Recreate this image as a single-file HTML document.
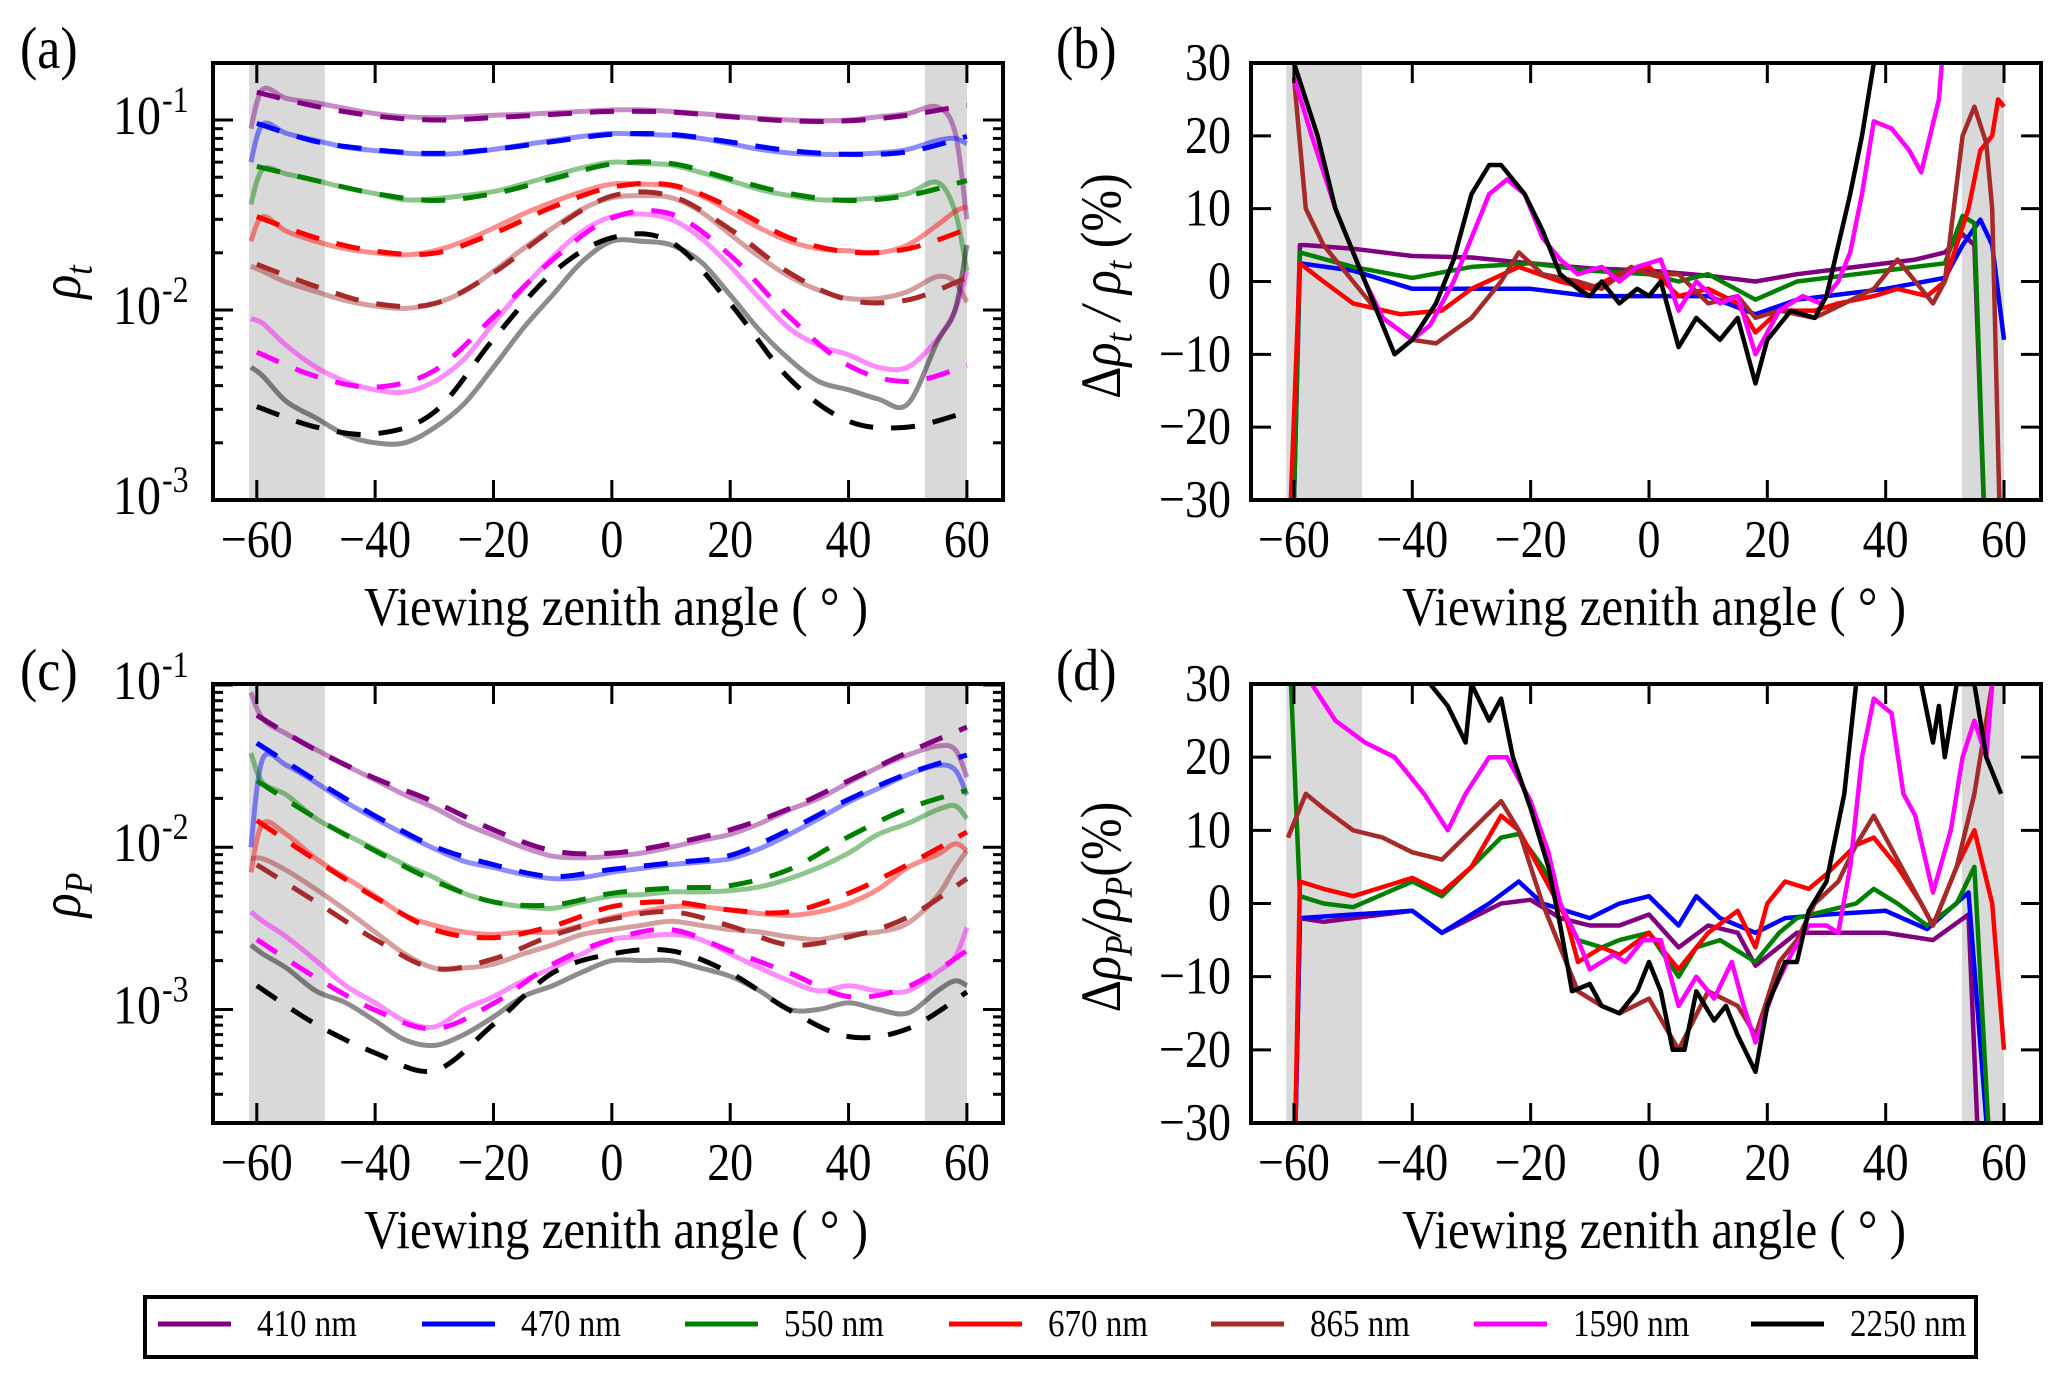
<!DOCTYPE html>
<html><head><meta charset="utf-8"><style>
html,body{margin:0;padding:0;background:#fff;}
svg{display:block;font-family:"Liberation Serif","DejaVu Serif",serif;}
</style></head><body>
<svg id="fig" xmlns="http://www.w3.org/2000/svg" width="2067" height="1383" viewBox="0 0 2067 1383">
<rect x="0" y="0" width="2067" height="1383" fill="#fff"/>
</svg>
<script>
// ---------- data ----------
const WAVES = ['410 nm','470 nm','550 nm','670 nm','865 nm','1590 nm','2250 nm'];
const COLORS = ['#800080','#0000ff','#008000','#ff0000','#a52a2a','#ff00ff','#000000'];
const XM = [-60,-50,-40,-30,-20,-10,0,10,20,30,40,50,60];
const XO = [-61,-59,-55,-50,-45,-40,-35,-30,-25,-20,-15,-10,-5,0,5,10,15,20,25,30,35,40,45,50,55,58,60];
// panel (a) model (dashed)
const A_M410 = [0.14,0.118,0.105,0.1,0.103,0.107,0.111,0.11,0.104,0.099,0.099,0.106,0.12];
const A_M470 = [0.096,0.077,0.0697,0.0667,0.070,0.077,0.084,0.084,0.0766,0.069,0.066,0.068,0.082];
const A_M550 = [0.057,0.048,0.041,0.0377,0.041,0.049,0.0587,0.059,0.049,0.041,0.0377,0.040,0.048];
const A_M670 = [0.031,0.024,0.0204,0.0199,0.0253,0.0348,0.0443,0.0455,0.0348,0.024,0.0202,0.021,0.0266];
const A_M865 = [0.0174,0.0133,0.0108,0.0108,0.0157,0.0266,0.0398,0.0398,0.0266,0.0157,0.0113,0.0113,0.0148];
const A_M1590 = [0.006,0.00447,0.00393,0.0048,0.0092,0.0184,0.0305,0.032,0.0194,0.0092,0.0051,0.0042,0.0051];
const A_M2250 = [0.0031,0.00242,0.00223,0.0029,0.00703,0.0157,0.024,0.0228,0.0108,0.00435,0.0026,0.00242,0.0029];
// panel (a) observed (solid, translucent)
const A_O410 = [0.09,0.145,0.13,0.123,0.115,0.108,0.104,0.103,0.104,0.106,0.107,0.109,0.111,0.113,0.113,0.111,0.108,0.105,0.102,0.1,0.099,0.1,0.104,0.108,0.117,0.086,0.03];
const A_O470 = [0.06,0.095,0.085,0.078,0.072,0.069,0.067,0.066,0.067,0.070,0.074,0.078,0.082,0.085,0.084,0.083,0.080,0.075,0.070,0.067,0.066,0.066,0.067,0.070,0.078,0.080,0.075];
const A_O550 = [0.036,0.055,0.052,0.048,0.044,0.041,0.038,0.0385,0.040,0.042,0.046,0.051,0.056,0.060,0.059,0.058,0.053,0.048,0.043,0.040,0.038,0.038,0.039,0.041,0.047,0.033,0.016];
const A_O670 = [0.023,0.031,0.026,0.023,0.021,0.020,0.0195,0.0205,0.023,0.027,0.032,0.037,0.042,0.046,0.046,0.045,0.040,0.033,0.027,0.023,0.021,0.0205,0.020,0.022,0.028,0.033,0.035];
const A_O865 = [0.017,0.016,0.014,0.0125,0.0112,0.0105,0.0102,0.0108,0.0125,0.016,0.021,0.027,0.034,0.039,0.040,0.039,0.033,0.025,0.019,0.015,0.0127,0.0115,0.0115,0.0125,0.015,0.014,0.011];
const A_O1590 = [0.009,0.0085,0.0065,0.0050,0.0042,0.0038,0.0037,0.0042,0.0055,0.0085,0.013,0.019,0.026,0.031,0.032,0.030,0.024,0.017,0.0115,0.0080,0.0065,0.0058,0.0050,0.0050,0.0070,0.010,0.016];
const A_O2250 = [0.005,0.0045,0.0033,0.0027,0.0022,0.0020,0.0020,0.0024,0.0032,0.0050,0.0080,0.012,0.018,0.023,0.023,0.022,0.018,0.012,0.0078,0.0055,0.0042,0.0038,0.0034,0.0032,0.0068,0.010,0.022];
// panel (c) model (dashed)
const C_M410 = [0.065,0.0397,0.0266,0.019,0.0128,0.0095,0.0092,0.0105,0.0128,0.0173,0.0257,0.0384,0.055];
const C_M470 = [0.0438,0.0257,0.0156,0.0101,0.0078,0.0066,0.0073,0.0080,0.0089,0.0128,0.0197,0.0284,0.037];
const C_M550 = [0.0257,0.0151,0.0095,0.0062,0.0046,0.00441,0.0052,0.0056,0.0058,0.0073,0.0116,0.0173,0.0225];
const C_M670 = [0.0146,0.0083,0.0049,0.0031,0.00277,0.00327,0.0043,0.0046,0.0041,0.0040,0.0052,0.0078,0.0124];
const C_M865 = [0.0078,0.0046,0.0027,0.00179,0.00205,0.00286,0.00361,0.0040,0.00327,0.0025,0.0028,0.0037,0.0064];
const C_M1590 = [0.0027,0.00157,0.00099,0.00076,0.00109,0.0019,0.0027,0.0031,0.0023,0.00168,0.0012,0.00138,0.0023];
const C_M2250 = [0.0014,0.00081,0.00054,0.00042,0.00081,0.00168,0.0022,0.0023,0.00168,0.00099,0.00068,0.00076,0.00128];
// panel (c) observed
const C_O410 = [0.09,0.062,0.05,0.040,0.032,0.026,0.021,0.0175,0.014,0.0118,0.010,0.0088,0.0086,0.0088,0.0092,0.010,0.011,0.012,0.014,0.017,0.020,0.025,0.031,0.037,0.042,0.040,0.027];
const C_O470 = [0.010,0.035,0.032,0.025,0.019,0.015,0.012,0.0098,0.0082,0.0075,0.0068,0.0064,0.0065,0.0070,0.0074,0.0078,0.0081,0.0085,0.0098,0.012,0.015,0.019,0.023,0.028,0.032,0.030,0.021];
const C_O550 = [0.038,0.025,0.021,0.015,0.012,0.0097,0.0078,0.0065,0.0052,0.0046,0.0043,0.0042,0.0046,0.0050,0.0051,0.0053,0.0053,0.0054,0.0057,0.0064,0.0075,0.0092,0.012,0.014,0.017,0.018,0.015];
const C_O670 = [0.007,0.014,0.012,0.0085,0.0065,0.005,0.0038,0.0033,0.003,0.0029,0.003,0.003,0.0033,0.0037,0.0040,0.0043,0.0043,0.0041,0.0039,0.0038,0.0040,0.0045,0.0055,0.0075,0.009,0.0105,0.0095];
const C_O865 = [0.0085,0.0085,0.0072,0.0055,0.0041,0.003,0.0022,0.0018,0.0018,0.0019,0.0022,0.0025,0.0029,0.0031,0.0033,0.0035,0.0033,0.0031,0.0030,0.0028,0.0027,0.0029,0.0030,0.0034,0.005,0.0075,0.0095];
const C_O1590 = [0.004,0.0035,0.0028,0.0020,0.0014,0.0011,0.00085,0.00078,0.0010,0.0012,0.0015,0.0018,0.0022,0.0027,0.0028,0.0029,0.0027,0.0022,0.0018,0.0015,0.0013,0.0014,0.0013,0.0013,0.0017,0.0021,0.0032];
const C_O2250 = [0.0025,0.0022,0.0018,0.0013,0.0011,0.00085,0.00065,0.0006,0.0007,0.0009,0.0012,0.0014,0.0017,0.0020,0.0020,0.0020,0.0018,0.0016,0.0013,0.0010,0.0010,0.0011,0.0010,0.00095,0.0013,0.0015,0.0014];
// panel (b) relative differences (%)
const B410x = [-60.5,-59,-58,-50,-40,-30,-20,-10,0,10,18,25,35,45,50,53,55,57];
const B410y = [-40,5,5,4.5,3.5,3.3,2.5,1.8,1.5,0.8,0,1,2,3,4,6.5,5,-40];
const B470x = [-60.3,-59,-50,-40,-30,-20,-10,0,10,18,25,30,40,50,53,56,58,60];
const B470y = [-40,2.5,1.5,-1,-1,-1,-2,-2,-2,-4.5,-2.5,-2,-1,0.5,5,8.5,5,-8];
const B550x = [-60.3,-59,-50,-40,-30,-20,-10,0,5,10,18,25,35,45,50,53,55,57];
const B550y = [-40,4,2,0.5,2,2.5,1.5,1,0,1,-2.5,0,1,2,2.5,9,8,-40];
const B670x = [-61,-59,-55,-50,-42,-35,-30,-22,-15,-10,-5,0,5,10,15,18,22,28,32,38,42,47,50,54,56,58,59,60];
const B670y = [-40,2.5,0,-3,-4.5,-4,-1,2,0,-1,1,2,-2,-1,-3,-7,-4,-4,-3,-2,-1,-2,0,10,18,20,25,24];
const B865x = [-60,-58,-55,-50,-45,-40,-36,-30,-25,-22,-18,-12,-8,-3,0,5,10,15,18,22,28,33,38,42,45,48,50,53,55,57,58,59.5];
const B865y = [28,10,5,0,-5,-8,-8.5,-5,0,4,1,0,-1,2,1,1,-3,-2,-5,-4,-5,-3,-1,3,0,-3,0,20,24,19,10,-40];
const B1590x = [-60,-57,-53,-48,-45,-40,-37,-33,-30,-27,-24,-21,-18,-15,-12,-8,-5,-2,2,5,8,12,15,18,22,26,29,32,34,36,38,41,44,46,49,50];
const B1590y = [28,20,10,0,-5,-8,-6,0,6,12,14,12,6,3,1,2,0,2,3,-4,0,-3,-2,-10,-4,-2,-3,0,4,12,22,21,18,15,25,35];
const B2250x = [-60,-56,-53,-48,-45,-43,-40,-36,-33,-30,-27,-25,-21,-18,-15,-12,-10,-8,-5,-2,0,2,5,8,12,15,18,20,24,28,30,32,34,36,38,39];
const B2250y = [30,20,10,0,-6,-10,-8,-3,3,12,16,16,12,7,1,-1,-2,0,-3,-1,-2,0,-9,-5,-8,-5,-14,-8,-4,-5,-2,5,12,20,30,40];
// panel (d) relative differences (%)
const D410x = [-60,-59,-55,-50,-40,-35,-30,-25,-20,-15,-10,-5,0,5,10,15,18,25,30,40,48,54,56];
const D410y = [-40,-2,-2.5,-2,-1,-4,-2,0,0.5,-2,-3,-3,-1.5,-6,-3,-4,-8.5,-4,-4,-4,-5,-1.5,-40];
const D470x = [-60,-59,-50,-40,-35,-27,-22,-18,-10,-5,0,5,8,12,18,23,30,40,47,54,58];
const D470y = [-40,-2,-1.5,-1,-4,0,3,0,-2,0,1,-3,1,-2,-4,-2,-1.5,-1,-3.5,1.5,-40];
const D550x = [-60.5,-59,-55,-50,-40,-35,-30,-25,-22,-18,-15,-12,-8,-5,0,5,8,12,18,22,25,30,35,38,42,47,52,55,58];
const D550y = [30,1,0,-0.5,3,1,5,9,9.5,5,0,-5,-6,-5,-4,-10,-6,-5,-8,-4,-2,-1,0,2,0,-3,0,5,-40];
const D670x = [-60,-59,-55,-50,-40,-35,-30,-25,-22,-18,-14,-12,-8,-5,0,5,10,15,18,20,23,27,30,35,38,42,46,48,52,55,58,60];
const D670y = [-40,3,2,1,3.5,1.5,5,12,10,4,-2,-8,-6,-7,-4,-9,-4,-1,-6,0,3,2,4,8,9,5,0,-3,5,10,0,-20];
const D865x = [-61,-58,-55,-50,-45,-40,-35,-30,-25,-22,-18,-15,-12,-8,-5,0,5,10,15,18,22,25,28,32,35,38,42,46,48,52,55,58];
const D865y = [9,15,13,10,9,7,6,10,14,10,0,-6,-12,-14,-15,-13,-20,-12,-14,-18,-8,-5,0,3,8,12,6,0,-3,5,15,30];
const D1590x = [-58,-57,-53,-48,-43,-38,-34,-31,-27,-24,-20,-17,-15,-12,-10,-6,-4,-1,2,5,8,11,14,16,18,21,24,27,30,32,34,36,38,41,43,45,47,48,51,53,55,57,58];
const D1590y = [35,30,25,22,20,15,10,15,20,20,14,7,0,-5,-9,-7,-8,-5,-5,-14,-10,-13,-8,-14,-19,-12,-7,-3,-3,-4,5,20,28,26,15,12,5,1.5,10,20,25,20,30];
const D2250x = [-38,-37,-34,-31,-30,-27,-25,-23,-20,-17,-15,-13,-10,-8,-5,-2,0,2,4,6,8,11,13,15,18,20,23,25,27,30,33,35,36,45,46,48,49,50,52,55,57,59.5];
const D2250y = [35,30,27,22,30,25,28,20,13,5,-3,-12,-11,-14,-15,-12,-8,-12,-20,-20,-12,-16,-14,-18,-23,-14,-8,-8,-1,3,15,30,40,40,30,22,27,20,30,30,20,15];
// tick labels
const X_TICKS = [-60,-40,-20,0,20,40,60];
const LIN_TICKS = [-30,-20,-10,0,10,20,30];

// ---------- helpers ----------
const NS = 'http://www.w3.org/2000/svg';
const svg = document.getElementById('fig');
const STRETCH = 1.15;
function mk(tag, attrs, parent){
  const e = document.createElementNS(NS, tag);
  for (const k in attrs) e.setAttribute(k, attrs[k]);
  (parent||svg).appendChild(e);
  return e;
}
function stretchText(e, x, y){
  e.setAttribute('transform', 'translate('+x+','+y+') scale(1,'+STRETCH+') translate('+(-x)+','+(-y)+')');
}
function smoothPath(pts){
  if (pts.length<2) return '';
  let d = 'M'+pts[0][0].toFixed(1)+','+pts[0][1].toFixed(1);
  for (let i=0;i<pts.length-1;i++){
    const p0=pts[Math.max(0,i-1)], p1=pts[i], p2=pts[i+1], p3=pts[Math.min(pts.length-1,i+2)];
    const c1x=p1[0]+(p2[0]-p0[0])/6, c1y=p1[1]+(p2[1]-p0[1])/6;
    const c2x=p2[0]-(p3[0]-p1[0])/6, c2y=p2[1]-(p3[1]-p1[1])/6;
    d+=' C'+c1x.toFixed(1)+','+c1y.toFixed(1)+' '+c2x.toFixed(1)+','+c2y.toFixed(1)+' '+p2[0].toFixed(1)+','+p2[1].toFixed(1);
  }
  return d;
}
function linePath(pts){
  return pts.map((p,i)=>(i?'L':'M')+p[0].toFixed(1)+','+p[1].toFixed(1)).join(' ');
}

function makePanel(cfg){
  const g = mk('g', {});
  
  
  const L=cfg.left, R=cfg.right, T=cfg.top, B=cfg.bottom;
  const sx = x => L + (x - cfg.xmin) * (R - L) / (cfg.xmax - cfg.xmin);
  const sy = cfg.log
    ? v => T + (cfg.ymax - Math.log10(v)) * (B - T) / (cfg.ymax - cfg.ymin)
    : v => T + (cfg.ymax - v) * (B - T) / (cfg.ymax - cfg.ymin);
  const clipId = 'clip-' + cfg.name;
  const defs = mk('defs', {}, g);
  const cp = mk('clipPath', {id: clipId}, defs);
  mk('rect', {x:L, y:T, width:R-L, height:B-T}, cp);
  const plot = mk('g', {'clip-path':'url(#'+clipId+')'}, g);
  
  
  [[-61.3,-48.5],[52.9,60]].forEach((s,i)=>{
    const r = mk('rect', {x:sx(s[0]), y:T, width:sx(s[1])-sx(s[0]), height:B-T, fill:'#d9d9d9'}, plot);
    
    
  });
  if (cfg.obs){
    cfg.obs.forEach((arr,i)=>{
      const pts = XO.map((x,j)=>[sx(x), sy(arr[j])]);
      const p = mk('path', {d:smoothPath(pts), fill:'none', stroke:COLORS[i], 'stroke-width':5, 'stroke-opacity':0.45, 'stroke-linejoin':'round'}, plot);
      
      
    });
    cfg.model.forEach((arr,i)=>{
      const pts = XM.map((x,j)=>[sx(x), sy(arr[j])]);
      const p = mk('path', {d:smoothPath(pts), fill:'none', stroke:COLORS[i], 'stroke-width':5, 'stroke-dasharray':'24,18'}, plot);
      
      
    });
  }
  if (cfg.diff){
    cfg.diff.forEach((xy,i)=>{
      const pts = xy[0].map((x,j)=>[sx(x), sy(xy[1][j])]);
      const p = mk('path', {d:linePath(pts), fill:'none', stroke:COLORS[i], 'stroke-width':4.5, 'stroke-linejoin':'round'}, plot);
      
      
    });
  }
  const tk = mk('g', {stroke:'#000', 'stroke-width':3}, g);
  
  
  X_TICKS.forEach(t=>{
    const x = sx(t);
    mk('line', {x1:x, x2:x, y1:B, y2:B-20}, tk);
    mk('line', {x1:x, x2:x, y1:T, y2:T+20}, tk);
    const lbl = mk('text', {x:x, y:B+57, 'font-size':46, 'text-anchor':'middle', fill:'#000'}, g);
    lbl.textContent = (t<0?'\u2212':'') + Math.abs(t);
    stretchText(lbl, x, B+57);
    
    
  });
  if (cfg.log){
    for (let d=Math.floor(cfg.ymin); d<=Math.ceil(cfg.ymax); d++){
      for (let k=1;k<=9;k++){
        const lv = d + Math.log10(k);
        if (lv < cfg.ymin-1e-6 || lv > cfg.ymax+1e-6) continue;
        const y = sy(Math.pow(10,lv));
        const len = k===1 ? 20 : 10;
        mk('line', {x1:L, x2:L+len, y1:y, y2:y}, tk);
        mk('line', {x1:R, x2:R-len, y1:y, y2:y}, tk);
        if (k===1){
          const lbl = mk('text', {x:L-52, y:y+14, 'font-size':48, 'text-anchor':'end', fill:'#000'}, g);
          lbl.textContent = '10';
          stretchText(lbl, L-52, y+14);
          
          
          const sup = mk('text', {x:L-51, y:y-8, 'font-size':32, 'text-anchor':'start', fill:'#000'}, g);
          sup.textContent = '-' + Math.abs(d);
          stretchText(sup, L-51, y-8);
          
          
        }
      }
    }
  } else {
    LIN_TICKS.forEach(t=>{
      const y = sy(t);
      mk('line', {x1:L, x2:L+20, y1:y, y2:y}, tk);
      mk('line', {x1:R, x2:R-20, y1:y, y2:y}, tk);
      const lbl = mk('text', {x:L-20, y:y+17, 'font-size':46, 'text-anchor':'end', fill:'#000'}, g);
      lbl.textContent = (t<0?'\u2212':'') + Math.abs(t);
      stretchText(lbl, L-20, y+17);
      
      
    });
  }
  const fr = mk('rect', {x:L, y:T, width:R-L, height:B-T, fill:'none', stroke:'#000', 'stroke-width':4}, g);
  
  
  const xl = mk('text', {x:(L+R)/2+8, y:B+125, 'font-size':48, 'text-anchor':'middle', fill:'#000', textLength:504, lengthAdjust:'spacingAndGlyphs'}, g);
  xl.textContent = 'Viewing zenith angle  ( \u00b0 )';
  stretchText(xl, (L+R)/2+8, B+125);
  
  
  const yl = mk('text', {transform:'translate('+cfg.ytx+','+cfg.yty+') rotate(-90) scale(1,'+STRETCH+')', 'font-size':50, 'text-anchor':'middle', fill:'#000', 'font-style':'italic'}, g);
  yl.innerHTML = cfg.ylabel;
  
  
  const pl = mk('text', {x:cfg.lx, y:cfg.ly, 'font-size':52, fill:'#000'}, g);
  pl.textContent = cfg.letter;
  stretchText(pl, cfg.lx, cfg.ly);
  
  
}

const subT = '<tspan font-size="34" dy="10">t</tspan>';
const subP = '<tspan font-size="34" dy="10">P</tspan>';
makePanel({name:'panel-a', left:213, right:1003, top:63, bottom:500, xmin:-67.4, xmax:66.1, log:true, ymin:-3, ymax:-0.70,
  obs:[A_O410,A_O470,A_O550,A_O670,A_O865,A_O1590,A_O2250],
  model:[A_M410,A_M470,A_M550,A_M670,A_M865,A_M1590,A_M2250],
  ylabel:'\u03c1'+subT, ytx:80, yty:282, letter:'(a)', lx:20, ly:68});
makePanel({name:'panel-b', left:1251, right:2041, top:63, bottom:500, xmin:-67.26, xmax:66.25, log:false, ymin:-30, ymax:30,
  diff:[[B410x,B410y],[B470x,B470y],[B550x,B550y],[B670x,B670y],[B865x,B865y],[B1590x,B1590y],[B2250x,B2250y]],
  ylabel:'<tspan font-style="normal">\u0394</tspan>\u03c1'+subT+'<tspan dy="-10"> / </tspan>\u03c1'+subT+'<tspan dy="-10" font-style="normal"> (%)</tspan>', ytx:1120, yty:286, letter:'(b)', lx:1056, ly:68});
makePanel({name:'panel-c', left:213, right:1003, top:684, bottom:1123, xmin:-67.4, xmax:66.1, log:true, ymin:-3.70, ymax:-0.994,
  obs:[C_O410,C_O470,C_O550,C_O670,C_O865,C_O1590,C_O2250],
  model:[C_M410,C_M470,C_M550,C_M670,C_M865,C_M1590,C_M2250],
  ylabel:'\u03c1'+subP, ytx:80, yty:895, letter:'(c)', lx:20, ly:690});
makePanel({name:'panel-d', left:1251, right:2041, top:684, bottom:1123, xmin:-67.26, xmax:66.25, log:false, ymin:-30, ymax:30,
  diff:[[D410x,D410y],[D470x,D470y],[D550x,D550y],[D670x,D670y],[D865x,D865y],[D1590x,D1590y],[D2250x,D2250y]],
  ylabel:'<tspan font-style="normal">\u0394</tspan>\u03c1'+subP+'<tspan dy="-10">/</tspan>\u03c1'+subP+'<tspan dy="-10" font-style="normal">(%)</tspan>', ytx:1120, yty:907, letter:'(d)', lx:1056, ly:690});

// ---------- legend ----------
const LEG_X = [158,422,685,949,1211,1474,1751];
const lg = mk('g', {});


const lb = mk('rect', {x:145, y:1297, width:1831, height:60, fill:'#fff', stroke:'#000', 'stroke-width':4}, lg);


WAVES.forEach((w,i)=>{
  const e = mk('g', {}, lg);
  
  
  mk('line', {x1:LEG_X[i], x2:LEG_X[i]+73, y1:1324, y2:1324, stroke:COLORS[i], 'stroke-width':5}, e);
  const t = mk('text', {x:LEG_X[i]+99, y:1336, 'font-size':33, fill:'#000'}, e);
  t.textContent = w;
  stretchText(t, LEG_X[i]+99, 1336);
});
</script>
</body></html>
